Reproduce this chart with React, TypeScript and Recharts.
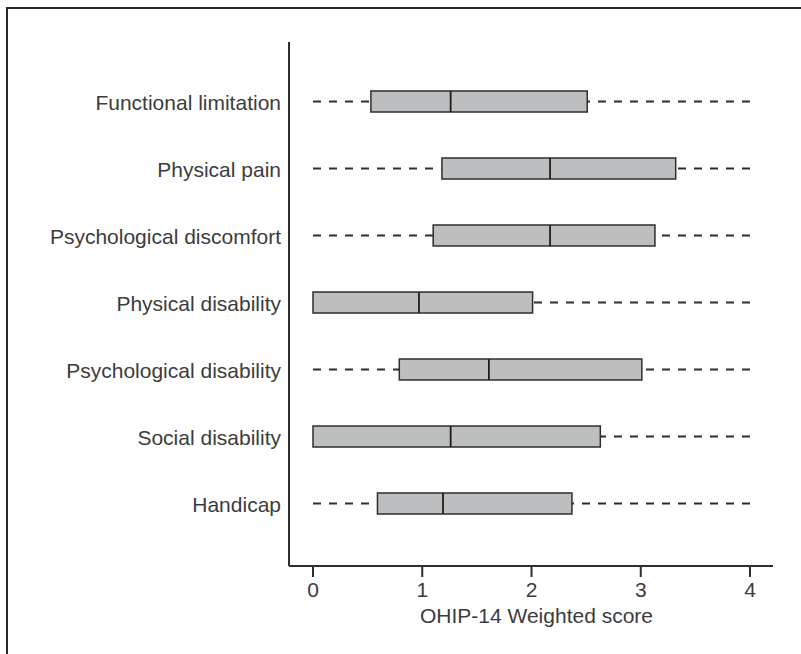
import { BarChart, Bar, XAxis, YAxis, Label } from 'recharts'

// OHIP-14 domains, top to bottom
const domains = [
  'Functional limitation',
  'Physical pain',
  'Psychological discomfort',
  'Physical disability',
  'Psychological disability',
  'Social disability',
  'Handicap',
]
const mins = [0, 0, 0, 0, 0, 0, 0]
const q1s = [0.53, 1.18, 1.1, 0, 0.79, 0, 0.59]
const medians = [1.26, 2.17, 2.17, 0.97, 1.61, 1.26, 1.19]
const q3s = [2.51, 3.32, 3.13, 2.01, 3.01, 2.63, 2.37]
const maxs = [4, 4, 4, 4, 4, 4, 4]
const xTicks = [0, 1, 2, 3, 4]

const data = domains.map((name, i) => ({
  name,
  range: [mins[i], maxs[i]],
  min: mins[i],
  q1: q1s[i],
  median: medians[i],
  q3: q3s[i],
  max: maxs[i],
}))

const INK = '#2e2e2e'
const TEXT = '#3c3c3c'
const FONT = '"Liberation Sans", Arial, sans-serif'

function BoxShape(props: any) {
  const { x, y, width, height, payload } = props
  const ppu = width / (payload.max - payload.min)
  const px = (v: number) => x + (v - payload.min) * ppu
  const cy = y + height / 2
  const xq1 = px(payload.q1)
  const xq3 = px(payload.q3)
  const xm = px(payload.median)
  return (
    <g>
      {payload.q1 > payload.min && (
        <line x1={x} x2={xq1} y1={cy} y2={cy} stroke={INK} strokeWidth={2} strokeDasharray="8 8" />
      )}
      {payload.q3 < payload.max && (
        <line x1={x + width} x2={xq3} y1={cy} y2={cy} stroke={INK} strokeWidth={2} strokeDasharray="8 8" />
      )}
      <rect x={xq1} y={y} width={xq3 - xq1} height={height} fill="#bdbec0" stroke={INK} strokeWidth={1.5} />
      <line x1={xm} x2={xm} y1={y} y2={y + height} stroke="#1e1e1e" strokeWidth={1.8} />
    </g>
  )
}

function AxisTitle(props: any) {
  const { viewBox } = props
  const cx = viewBox.x + 24 + (viewBox.width - 47) / 2 + 5
  return (
    <text x={cx} y={623} textAnchor="middle" fontSize={21} fontFamily={FONT} fill={TEXT}>
      OHIP-14 Weighted score
    </text>
  )
}

export default function App() {
  return (
    <div style={{ position: 'absolute', left: 0, top: 0, width: 801, height: 654, overflow: 'hidden', background: '#fff' }}>
      <div
        style={{
          position: 'absolute',
          left: 6,
          top: 7,
          width: 820,
          height: 645,
          borderTop: '2px solid #2a2a2a',
          borderLeft: '2px solid #2a2a2a',
          borderBottom: '1px solid #b0b0b0',
        }}
      />
      <div style={{ position: 'absolute', left: 0, top: 0 }}>
        <BarChart
          width={801}
          height={654}
          data={data}
          layout="vertical"
          barSize={21}
          margin={{ top: 42, right: 28, left: 9, bottom: 28 }}
        >
          <XAxis
            type="number"
            domain={[0, 4]}
            ticks={xTicks}
            padding={{ left: 24, right: 23 }}
            height={60}
            stroke={INK}
            tickSize={11}
            tickMargin={5}
            tick={{ fontSize: 21, fontFamily: FONT, fill: TEXT }}
            axisLine={{ stroke: INK, strokeWidth: 2 }}
            tickLine={{ stroke: INK, strokeWidth: 2 }}
          >
            <Label content={AxisTitle} />
          </XAxis>
          <YAxis
            type="category"
            dataKey="name"
            width={280}
            padding={{ top: 26, bottom: 29 }}
            tickLine={false}
            tickSize={0}
            tickMargin={8}
            axisLine={{ stroke: INK, strokeWidth: 2 }}
            tick={{ fontSize: 21, fontFamily: FONT, fill: TEXT, dy: 1 }}
            interval={0}
          />
          <Bar dataKey="range" shape={BoxShape} isAnimationActive={false} />
        </BarChart>
      </div>
    </div>
  )
}
